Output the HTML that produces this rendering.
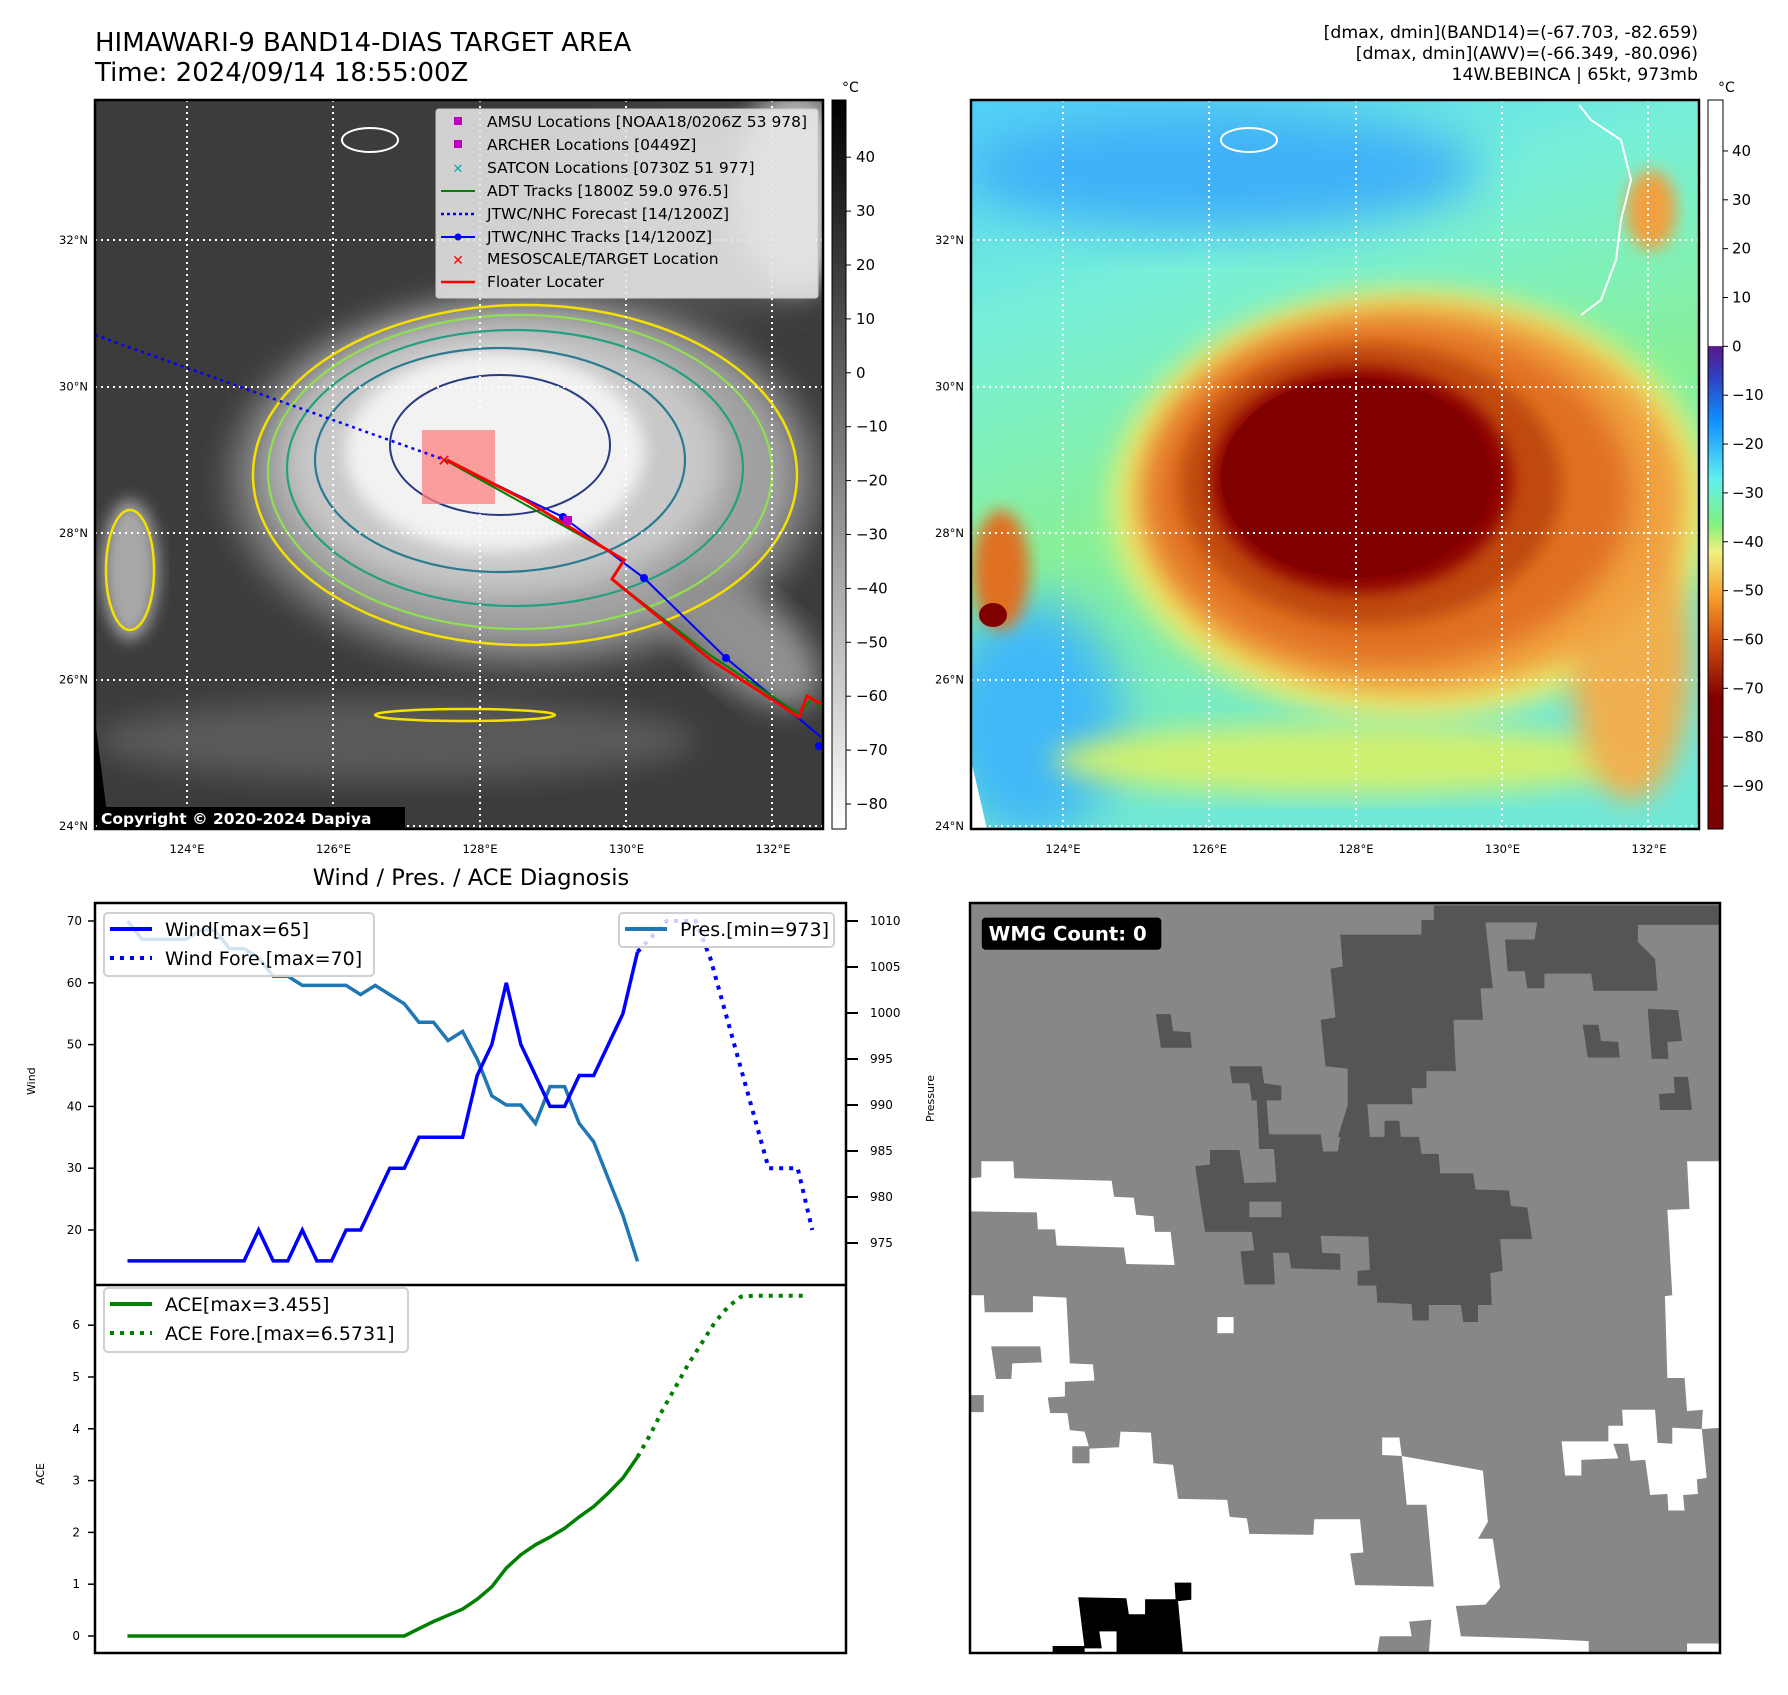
<!DOCTYPE html>
<html><head><meta charset="utf-8"><style>
html,body{margin:0;padding:0;background:#fff;}
body{width:1788px;height:1690px;position:relative;overflow:hidden;font-family:"Liberation Sans","DejaVu Sans",sans-serif;}
svg text{font-family:"DejaVu Sans","Liberation Sans",sans-serif;}
</style></head><body>
<svg id="root" width="1788" height="1690" viewBox="0 0 1788 1690" xmlns="http://www.w3.org/2000/svg">
<defs>
 <filter id="b8" x="-20%" y="-20%" width="140%" height="140%"><feGaussianBlur stdDeviation="8"/></filter>
 <filter id="b14" x="-20%" y="-20%" width="140%" height="140%"><feGaussianBlur stdDeviation="14"/></filter>
 <filter id="b25" x="-30%" y="-30%" width="160%" height="160%"><feGaussianBlur stdDeviation="25"/></filter>
 <linearGradient id="gray" x1="0" y1="0" x2="0" y2="1"><stop offset="0" stop-color="#000"/><stop offset="1" stop-color="#fff"/></linearGradient>
 <linearGradient id="jet" x1="0" y1="0" x2="0" y2="1">
  <stop offset="0" stop-color="#fff"/><stop offset="0.337" stop-color="#fff"/>
  <stop offset="0.338" stop-color="#5a1a8a"/><stop offset="0.38" stop-color="#3040c0"/>
  <stop offset="0.44" stop-color="#1090ff"/><stop offset="0.52" stop-color="#60f0f0"/>
  <stop offset="0.58" stop-color="#80f080"/><stop offset="0.62" stop-color="#f0f080"/>
  <stop offset="0.68" stop-color="#f5a030"/><stop offset="0.74" stop-color="#d05010"/>
  <stop offset="0.82" stop-color="#800000"/><stop offset="1" stop-color="#780000"/>
 </linearGradient>
 <linearGradient id="skyR" x1="0" y1="0" x2="0.3" y2="1"><stop offset="0" stop-color="#50d0f8"/><stop offset="0.3" stop-color="#78f0d8"/><stop offset="0.6" stop-color="#88f098"/><stop offset="1" stop-color="#70e8d8"/></linearGradient>
 <clipPath id="mapclip"><rect x="0" y="0" width="728" height="729"/></clipPath>
 <clipPath id="cA"><rect x="95" y="903" width="751" height="382"/></clipPath>
 <clipPath id="cB"><rect x="95" y="1285" width="751" height="368"/></clipPath>
</defs>

<!-- Titles -->
<text x="95" y="51" font-size="26" fill="#000">HIMAWARI-9 BAND14-DIAS TARGET AREA</text>
<text x="95" y="81" font-size="26" fill="#000">Time: 2024/09/14 18:55:00Z</text>
<text x="1698" y="38" font-size="17.3" text-anchor="end">[dmax, dmin](BAND14)=(-67.703, -82.659)</text>
<text x="1698" y="59" font-size="17.3" text-anchor="end">[dmax, dmin](AWV)=(-66.349, -80.096)</text>
<text x="1698" y="80" font-size="17.3" text-anchor="end">14W.BEBINCA | 65kt, 973mb</text>

<!-- Left map -->
<g transform="translate(95,100)">
 <g clip-path="url(#mapclip)">
  <rect width="728" height="729" fill="#3c3c3c"/>
  <ellipse cx="600" cy="120" rx="140" ry="90" fill="#5a5a5a" filter="url(#b25)"/>
  <ellipse cx="700" cy="90" rx="60" ry="100" fill="#bdbdbd" filter="url(#b14)"/>
  <ellipse cx="300" cy="640" rx="300" ry="40" fill="#5a5a5a" filter="url(#b14)"/>
  <ellipse cx="430" cy="380" rx="300" ry="190" fill="#6a6a6a" filter="url(#b14)"/>
  <ellipse cx="430" cy="375" rx="270" ry="170" fill="#a0a0a0" filter="url(#b14)"/>
  <ellipse cx="650" cy="540" rx="90" ry="45" fill="#909090" transform="rotate(40 650 540)" filter="url(#b14)"/>
  <ellipse cx="410" cy="360" rx="220" ry="135" fill="#c8c8c8" filter="url(#b14)"/>
  <ellipse cx="400" cy="352" rx="150" ry="100" fill="#f2f2f2" filter="url(#b8)"/>
  <ellipse cx="35" cy="470" rx="28" ry="70" fill="#a8a8a8" filter="url(#b8)"/>
  <ellipse cx="430" cy="375" rx="272" ry="170" fill="none" stroke="#f5e000" stroke-width="2.5"/>
  <ellipse cx="425" cy="372" rx="252" ry="157" fill="none" stroke="#90e050" stroke-width="2.2"/>
  <ellipse cx="420" cy="368" rx="228" ry="138" fill="none" stroke="#22a080" stroke-width="2.2"/>
  <ellipse cx="405" cy="360" rx="185" ry="112" fill="none" stroke="#2b7a90" stroke-width="2.2"/>
  <ellipse cx="405" cy="345" rx="110" ry="70" fill="none" stroke="#2a3a80" stroke-width="2"/>
  <ellipse cx="35" cy="470" rx="24" ry="60" fill="none" stroke="#f5e000" stroke-width="2.5"/>
  <ellipse cx="370" cy="615" rx="90" ry="6" fill="none" stroke="#f5e000" stroke-width="2.5"/>
  <ellipse cx="275" cy="40" rx="28" ry="12" fill="none" stroke="#fff" stroke-width="2"/>
  <polygon points="0,620 14,729 0,729" fill="#000"/>
  <g stroke="#fff" stroke-width="2" stroke-dasharray="2 4">
   <line x1="92" y1="0" x2="92" y2="729"/><line x1="238" y1="0" x2="238" y2="729"/><line x1="385" y1="0" x2="385" y2="729"/><line x1="531" y1="0" x2="531" y2="729"/><line x1="677" y1="0" x2="677" y2="729"/>
   <line x1="0" y1="140" x2="728" y2="140"/><line x1="0" y1="287" x2="728" y2="287"/><line x1="0" y1="433" x2="728" y2="433"/><line x1="0" y1="580" x2="728" y2="580"/><line x1="0" y1="726" x2="728" y2="726"/>
  </g>
  <rect x="327" y="330" width="73" height="74" fill="#ff8080" opacity="0.75"/>
  <polyline points="0,235 350,360" fill="none" stroke="#0000ff" stroke-width="2.5" stroke-dasharray="3 4"/>
  <polyline points="350,360 468,417 549,478 631,558 726,637" fill="none" stroke="#0000ff" stroke-width="2"/>
  <g fill="#0000ff"><circle cx="468" cy="417" r="4"/><circle cx="549" cy="478" r="4"/><circle cx="631" cy="558" r="4"/><circle cx="724" cy="646" r="4"/></g>
  <polyline points="350,360 530,460 517,479 615,555 704,614 718,598 728,610" fill="none" stroke="#008000" stroke-width="2"/>
  <polyline points="352,360 430,400 529,460 517,479 616,560 704,617 712,596 728,605" fill="none" stroke="#ff0000" stroke-width="3"/>
  <rect x="468" y="416" width="9" height="9" fill="#c000c0"/>
  <text x="349" y="366" font-size="16" fill="#ff0000" text-anchor="middle" font-weight="bold">✕</text>
  <rect x="341" y="9" width="382" height="189" rx="3" fill="#e6e6e6" fill-opacity="0.88" stroke="#ccc"/>
  <g font-size="15.5" fill="#000">
   <rect x="359" y="17" width="8" height="8" fill="#c000c0"/><text x="392" y="27">AMSU Locations [NOAA18/0206Z 53 978]</text>
   <rect x="359" y="40" width="8" height="8" fill="#c000c0"/><text x="392" y="50">ARCHER Locations [0449Z]</text>
   <text x="363" y="73" fill="#00b0b0" font-size="13" text-anchor="middle" font-weight="bold">✕</text><text x="392" y="73">SATCON Locations [0730Z 51 977]</text>
   <line x1="346" y1="91" x2="380" y2="91" stroke="#008000" stroke-width="2"/><text x="392" y="96">ADT Tracks [1800Z 59.0 976.5]</text>
   <line x1="346" y1="114" x2="380" y2="114" stroke="#0000ff" stroke-width="2.5" stroke-dasharray="3 3"/><text x="392" y="119">JTWC/NHC Forecast [14/1200Z]</text>
   <line x1="346" y1="137" x2="380" y2="137" stroke="#0000ff" stroke-width="2"/><circle cx="363" cy="137" r="3.5" fill="#00f"/><text x="392" y="142">JTWC/NHC Tracks [14/1200Z]</text>
   <text x="363" y="165" fill="#ff0000" font-size="14" text-anchor="middle" font-weight="bold">✕</text><text x="392" y="164">MESOSCALE/TARGET Location</text>
   <line x1="346" y1="182" x2="380" y2="182" stroke="#ff0000" stroke-width="2.5"/><text x="392" y="187">Floater Locater</text>
  </g>
  <rect x="2" y="707" width="308" height="22" fill="#000"/>
  <text x="6" y="724" font-size="15.5" font-weight="bold" fill="#fff">Copyright © 2020-2024 Dapiya</text>
 </g>
 <rect width="728" height="729" fill="none" stroke="#000" stroke-width="2.5"/>
</g>

<!-- Right map -->
<g transform="translate(971,100)">
 <g clip-path="url(#mapclip)">
  <rect width="728" height="729" fill="url(#skyR)"/>
  <ellipse cx="250" cy="70" rx="260" ry="60" fill="#40b0f8" filter="url(#b25)"/>
  <ellipse cx="60" cy="620" rx="90" ry="120" fill="#40b8f8" filter="url(#b25)"/>
  <ellipse cx="380" cy="660" rx="300" ry="35" fill="#d0f070" filter="url(#b14)"/>
  <ellipse cx="440" cy="405" rx="300" ry="215" fill="#e8f070" filter="url(#b14)"/>
  <ellipse cx="660" cy="560" rx="60" ry="140" fill="#f0b050" filter="url(#b14)"/>
  <ellipse cx="440" cy="400" rx="275" ry="195" fill="#f0a040" filter="url(#b14)"/>
  <ellipse cx="420" cy="395" rx="240" ry="170" fill="#e07020" filter="url(#b14)"/>
  <ellipse cx="400" cy="385" rx="190" ry="140" fill="#c04a10" filter="url(#b8)"/>
  <ellipse cx="390" cy="380" rx="150" ry="112" fill="#8a0000" filter="url(#b8)"/>
  <ellipse cx="385" cy="378" rx="135" ry="100" fill="#800000"/>
  <ellipse cx="30" cy="470" rx="28" ry="60" fill="#e07020" filter="url(#b8)"/>
  <ellipse cx="22" cy="515" rx="14" ry="12" fill="#800000"/>
  <ellipse cx="680" cy="110" rx="25" ry="40" fill="#f0a040" filter="url(#b8)"/>
  <ellipse cx="278" cy="40" rx="28" ry="12" fill="none" stroke="#fff" stroke-width="2"/>
  <polyline points="608,5 620,20 650,40 660,80 650,120 645,160 630,200 610,215" fill="none" stroke="#fff" stroke-width="2"/>
  <polygon points="0,660 16,729 0,729" fill="#fff"/>
  <g stroke="#fff" stroke-width="2" stroke-dasharray="2 4">
   <line x1="92" y1="0" x2="92" y2="729"/><line x1="238" y1="0" x2="238" y2="729"/><line x1="385" y1="0" x2="385" y2="729"/><line x1="531" y1="0" x2="531" y2="729"/><line x1="677" y1="0" x2="677" y2="729"/>
   <line x1="0" y1="140" x2="728" y2="140"/><line x1="0" y1="287" x2="728" y2="287"/><line x1="0" y1="433" x2="728" y2="433"/><line x1="0" y1="580" x2="728" y2="580"/><line x1="0" y1="726" x2="728" y2="726"/>
  </g>
 </g>
 <rect width="728" height="729" fill="none" stroke="#000" stroke-width="2.5"/>
</g>

<!-- colorbars -->
<g>
 <rect x="832" y="100" width="14" height="729" fill="url(#gray)" stroke="#000" stroke-width="1"/>
 <text x="842" y="92" font-size="14">°C</text>
 <g id="cb1" font-size="15"></g>
</g>
<g>
 <rect x="1708" y="100" width="15" height="729" fill="url(#jet)" stroke="#000" stroke-width="1"/>
 <text x="1718" y="92" font-size="14">°C</text>
 <g id="cb2" font-size="15"></g>
</g>
<g id="maplabels" font-size="11.5"></g>

<!-- Bottom chart -->
<text x="471" y="885" font-size="22.5" text-anchor="middle">Wind / Pres. / ACE Diagnosis</text>
<g id="chart"></g>
<rect x="95" y="903" width="751" height="750" fill="none" stroke="#000" stroke-width="2.5"/>
<line x1="95" y1="1285" x2="846" y2="1285" stroke="#000" stroke-width="2.5"/>
<text transform="translate(35,1095) rotate(-90)" font-size="11">Wind</text>
<text transform="translate(934,1122) rotate(-90)" font-size="11">Pressure</text>
<text transform="translate(44,1485) rotate(-90)" font-size="11">ACE</text>

<!-- WMG panel -->
<g transform="translate(970,903) scale(0.4918,0.4872) translate(-12,-15)">
 <rect x="12" y="15" width="1525" height="1540" fill="#878787"/>
 <g fill="#555">
  <polygon points="955,20 1535,20 1535,60 1370,60 1370,95 1405,130 1410,195 1280,195 1275,160 1180,160 1180,190 1145,190 1140,155 1105,155 1100,90 1160,90 1165,55 1060,55 1075,190 1050,190 1055,255 995,255 1000,360 940,360 940,395 910,395 912,428 820,428 825,495 760,495 780,430 780,355 735,350 725,255 755,250 745,150 770,145 765,80 930,80 930,50 955,50"/>
  <polygon points="540,350 605,350 610,385 645,390 645,420 615,420 620,490 725,490 730,525 760,525 765,495 855,495 855,462 885,462 888,495 925,495 930,530 965,530 968,570 1035,570 1040,603 1108,605 1112,637 1145,640 1155,705 1090,705 1095,770 1070,775 1073,840 1045,840 1045,875 1015,875 1010,840 945,840 945,872 912,872 910,838 840,835 838,800 800,800 800,770 825,768 822,700 725,698 728,733 765,735 765,768 665,765 660,733 628,733 632,798 570,798 562,730 590,728 585,690 490,690 480,625 470,555 500,552 500,522 560,522 570,590 635,588 630,520 600,520 595,420 585,420 580,385 545,385"/>
  <polygon points="390,243 420,243 425,278 460,280 463,312 400,312"/>
  <polygon points="1258,265 1290,265 1295,298 1330,300 1333,332 1268,332"/>
  <polygon points="1390,232 1452,235 1460,298 1430,300 1432,335 1398,335"/>
  <polygon points="1443,372 1472,372 1480,440 1415,440 1413,407 1445,405"/>
 </g>
 <rect x="580" y="628" width="65" height="32" fill="#878787"/>
 <g fill="#fff">
  <polygon points="12,580 35,578 35,545 100,545 102,580 300,585 305,618 345,620 350,655 385,658 388,690 420,690 428,758 330,756 325,722 188,718 185,685 150,685 148,650 12,648"/>
  <polygon points="12,820 40,820 42,855 140,855 140,822 208,825 215,960 262,962 265,995 205,998 205,1028 170,1030 175,1062 210,1062 215,1097 245,1100 255,1135 315,1132 318,1100 380,1102 385,1165 425,1168 435,1238 535,1240 540,1275 575,1278 580,1310 710,1312 712,1280 805,1280 812,1348 785,1350 795,1415 955,1418 962,1485 905,1490 910,1520 845,1520 840,1555 12,1555"/>
  <polygon points="850,1112 885,1112 890,1150 1055,1180 1065,1285 1045,1320 1075,1320 1090,1420 1060,1455 1000,1458 1010,1520 1165,1525 1270,1530 1270,1555 945,1555 955,1418 940,1250 900,1250 890,1150 850,1148"/>
  <polygon points="1470,545 1537,545 1537,1092 1500,1095 1502,1055 1470,1058 1465,990 1430,990 1425,822 1440,820 1430,645 1475,643"/>
  <polygon points="1215,1120 1310,1120 1310,1088 1340,1088 1338,1055 1405,1055 1410,1123 1440,1125 1440,1092 1500,1095 1510,1195 1490,1198 1492,1228 1462,1230 1465,1262 1432,1262 1430,1228 1395,1230 1385,1158 1355,1160 1350,1125 1320,1125 1330,1155 1255,1158 1255,1190 1222,1190"/>
  <rect x="515" y="865" width="33" height="33"/>
  <rect x="1470" y="1535" width="67" height="20"/>
 </g>
 <g fill="#878787">
  <polygon points="55,925 155,925 158,958 98,960 96,992 65,992"/>
  <rect x="12" y="1025" width="28" height="35"/>
  <rect x="220" y="1130" width="35" height="35"/>
 </g>
 <g fill="#000">
  <polygon points="232,1440 330,1442 335,1475 368,1475 368,1444 430,1444 428,1410 462,1410 462,1445 435,1448 445,1555 310,1555 310,1510 275,1510 280,1545 245,1545"/>
  <rect x="180" y="1540" width="65" height="15"/>
 </g>
 <rect x="36" y="45" width="365" height="66" rx="8" fill="#000"/>
 <text x="50" y="92" font-size="40" font-weight="bold" fill="#fff">WMG Count: 0</text>
</g>
<rect x="970" y="903" width="750" height="750" fill="none" stroke="#000" stroke-width="2.5"/>
</svg>

<script>
// ---- chart data ----
const windObs = [15,15,15,15,15,15,15,15,15,20,15,15,20,15,15,20,20,25,30,30,35,35,35,35,45,50,60,50,45,40,40,45,45,50,55,65];
const windFcstIdx = [35,37,39,40,44,46,47];
const windFcst = [65,70,70,64,30,30,20];
const presObs = [1010,1008,1008,1008,1008,1009,1009,1007,1007,1006,1004,1004,1003,1003,1003,1003,1002,1003,1002,1001,999,999,997,998,995,991,990,990,988,992,992,988,986,982,978,973];
const aceObs = [0,0,0,0,0,0,0,0,0,0,0,0,0,0,0,0,0,0,0,0,0.14,0.28,0.4,0.52,0.71,0.95,1.31,1.57,1.76,1.91,2.08,2.3,2.5,2.76,3.05,3.455];
const aceFcstIdx = [35,35.9,36.7,37.6,38.5,39.4,40.3,41.2,42.1,43,46.6];
const aceFcst = [3.455,3.9,4.35,4.8,5.25,5.65,6.05,6.35,6.55,6.57,6.57];
const windTicks = [20,30,40,50,60,70];
const presTicks = [975,980,985,990,995,1000,1005,1010];
const aceTicks = [0,1,2,3,4,5,6];
const grayTicks = [40,30,20,10,0,-10,-20,-30,-40,-50,-60,-70,-80];
const awvTicks = [40,30,20,10,0,-10,-20,-30,-40,-50,-60,-70,-80,-90];
const lonTicks = [124,126,128,130,132];
const latTicks = [32,30,28,26,24];

const NS='http://www.w3.org/2000/svg';
const xi = i => 127.5 + i*14.57;
const wy = v => 921 + (70-v)*6.18;
const py = p => 921 + (1010-p)*9.2;
const ay = a => 1636 - a*51.8;
const cb1y = v => 804 - (v+80)*5.39;
const cb2y = v => 786 - (v+90)*4.885;
const lonx = l => 187 + (l-124)*73.25;
const laty = l => 240 + (32-l)*73.25;

function mk(tag, attrs, parent, text){
  const e=document.createElementNS(NS,tag);
  for(const k in attrs) e.setAttribute(k, attrs[k]);
  if(text!==undefined) e.textContent=text;
  parent.appendChild(e); return e;
}
const chart=document.getElementById('chart');
function line(xs, ys, color, dash, clip, name){
  const pts=xs.map((x,k)=>x.toFixed(1)+','+ys[k].toFixed(1)).join(' ');
  const a={points:pts,fill:'none',stroke:color,'stroke-width':dash?4:3.5,'clip-path':'url(#'+clip+')'};
  if(dash){a['stroke-dasharray']='4 6';}
  const e=mk('polyline',a,chart);
  
  
}
line(presObs.map((v,i)=>xi(i)), presObs.map(py), '#1f77b4', false, 'cA', 'pressure-line');
line(windObs.map((v,i)=>xi(i)), windObs.map(wy), '#0000ff', false, 'cA', 'wind-line');
line(windFcstIdx.map(xi), windFcst.map(wy), '#0000ff', true, 'cA', 'wind-forecast-line');
line(aceObs.map((v,i)=>xi(i)), aceObs.map(ay), '#008000', false, 'cB', 'ace-line');
line(aceFcstIdx.map(xi), aceFcst.map(ay), '#008000', true, 'cB', 'ace-forecast-line');

windTicks.forEach(t=>{
  const y=wy(t);
  mk('line',{x1:88,y1:y,x2:95,y2:y,stroke:'#000','stroke-width':1.5},chart);
  const e=mk('text',{x:82,y:y+4,'font-size':12,'text-anchor':'end'},chart,String(t));
  
  
});
presTicks.forEach(t=>{
  const y=py(t);
  mk('line',{x1:846,y1:y,x2:858,y2:y,stroke:'#000','stroke-width':2},chart);
  const e=mk('text',{x:870,y:y+4,'font-size':12},chart,String(t));
  
  
});
aceTicks.forEach(t=>{
  const y=ay(t);
  mk('line',{x1:88,y1:y,x2:95,y2:y,stroke:'#000','stroke-width':1.5},chart);
  const e=mk('text',{x:80,y:y+4,'font-size':12,'text-anchor':'end'},chart,String(t));
  
  
});
// legends
function legend(x,y,w,h,items,name){
  const g=mk('g',{},chart);
  
  
  mk('rect',{x:x,y:y,width:w,height:h,rx:4,fill:'#fff','fill-opacity':0.8,stroke:'#d0d0d0','stroke-width':2},g);
  items.forEach((it,k)=>{
    const cy=y+16+k*29;
    const la={x1:x+6,y1:cy,x2:x+48,y2:cy,stroke:it[1],'stroke-width':4};
    if(it[2]) la['stroke-dasharray']='4 6';
    mk('line',la,g);
    mk('text',{x:x+61,y:cy+7,'font-size':19},g,it[0]);
  });
}
legend(104,913,270,63,[['Wind[max=65]','#0000ff',false],['Wind Fore.[max=70]','#0000ff',true]],'wind-legend');
legend(619,913,215,34,[['Pres.[min=973]','#1f77b4',false]],'pressure-legend');
legend(104,1288,304,64,[['ACE[max=3.455]','#008000',false],['ACE Fore.[max=6.5731]','#008000',true]],'ace-legend');

// colorbar ticks
const cb1=document.getElementById('cb1');
grayTicks.forEach(t=>{
  const y=cb1y(t);
  mk('line',{x1:846,y1:y,x2:851,y2:y,stroke:'#000'},cb1);
  const e=mk('text',{x:856,y:y+5},cb1,(t<0?'\u2212'+(-t):String(t)));
  
  
});
const cb2=document.getElementById('cb2');
awvTicks.forEach(t=>{
  const y=cb2y(t);
  mk('line',{x1:1723,y1:y,x2:1728,y2:y,stroke:'#000'},cb2);
  const e=mk('text',{x:1732,y:y+5},cb2,(t<0?'\u2212'+(-t):String(t)));
  
  
});
// map lat/lon labels
const ml=document.getElementById('maplabels');
[0,876].forEach(off=>{
  lonTicks.forEach(l=>{
    const e=mk('text',{x:lonx(l)+off,y:853,'text-anchor':'middle'},ml,l+'°E');
    
    
  });
  latTicks.forEach(l=>{
    const e=mk('text',{x:88+off,y:laty(l)+4,'text-anchor':'end'},ml,l+'°N');
    
    
  });
});
</script>
</body></html>
